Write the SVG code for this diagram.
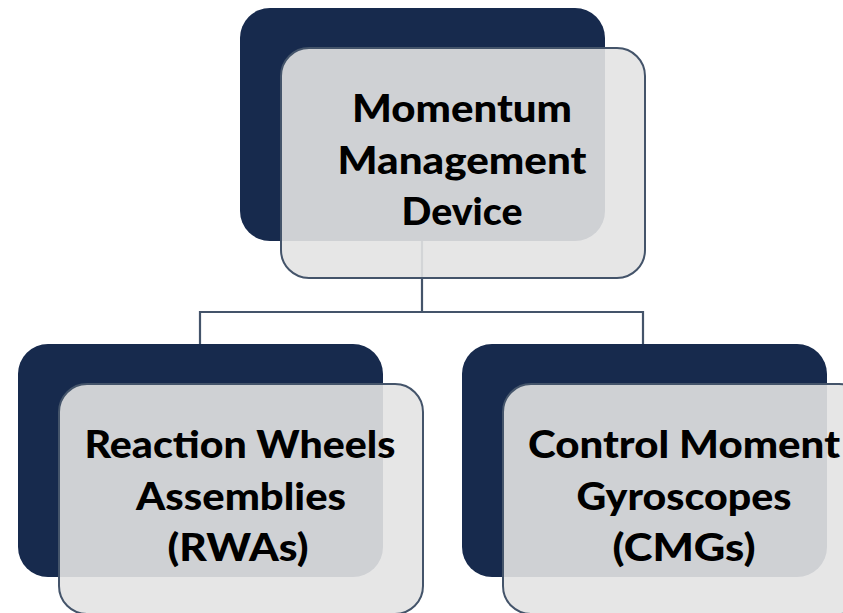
<svg xmlns="http://www.w3.org/2000/svg" width="843" height="613" viewBox="0 0 843 613">
<style>
.back{fill:#172a4d;}
.front{fill:#e3e3e3;fill-opacity:0.9;stroke:#44546a;stroke-width:2;}
.conn{fill:none;stroke:#44546a;stroke-width:2.2;}
.lbl{font-family:Lato,"Liberation Sans",sans-serif;font-weight:900;font-size:38px;fill:#000;text-anchor:middle;}
</style>
<rect width="843" height="613" fill="#ffffff"/>
<g id="connectors">
<path class="conn" d="M422,241 V312 M200,344 V312 H643 V344"/>
</g>
<g id="node-momentum">
<rect class="back" x="240" y="8" width="365" height="233" rx="30"/>
<rect class="front" x="281" y="48" width="364" height="230" rx="28"/>
<text class="lbl" x="462" y="122" textLength="220" lengthAdjust="spacingAndGlyphs">Momentum</text>
<text class="lbl" x="462" y="174" textLength="249" lengthAdjust="spacingAndGlyphs">Management</text>
<text class="lbl" x="462" y="225" textLength="121" lengthAdjust="spacingAndGlyphs">Device</text>
</g>
<g id="node-rwa">
<rect class="back" x="18" y="344" width="365" height="233" rx="30"/>
<rect class="front" x="59" y="384" width="364" height="230" rx="28"/>
<text class="lbl" x="240" y="458" textLength="311" lengthAdjust="spacingAndGlyphs">Reaction Wheels</text>
<text class="lbl" x="241" y="510" textLength="210" lengthAdjust="spacingAndGlyphs">Assemblies</text>
<text class="lbl" x="238" y="561" textLength="141" lengthAdjust="spacingAndGlyphs">(RWAs)</text>
</g>
<g id="node-cmg">
<rect class="back" x="462" y="344" width="365" height="233" rx="30"/>
<rect class="front" x="503" y="384" width="364" height="230" rx="28"/>
<text class="lbl" x="684" y="458" textLength="312" lengthAdjust="spacingAndGlyphs">Control Moment</text>
<text class="lbl" x="684" y="510" textLength="215" lengthAdjust="spacingAndGlyphs">Gyroscopes</text>
<text class="lbl" x="684" y="561" textLength="143" lengthAdjust="spacingAndGlyphs">(CMGs)</text>
</g>
</svg>
